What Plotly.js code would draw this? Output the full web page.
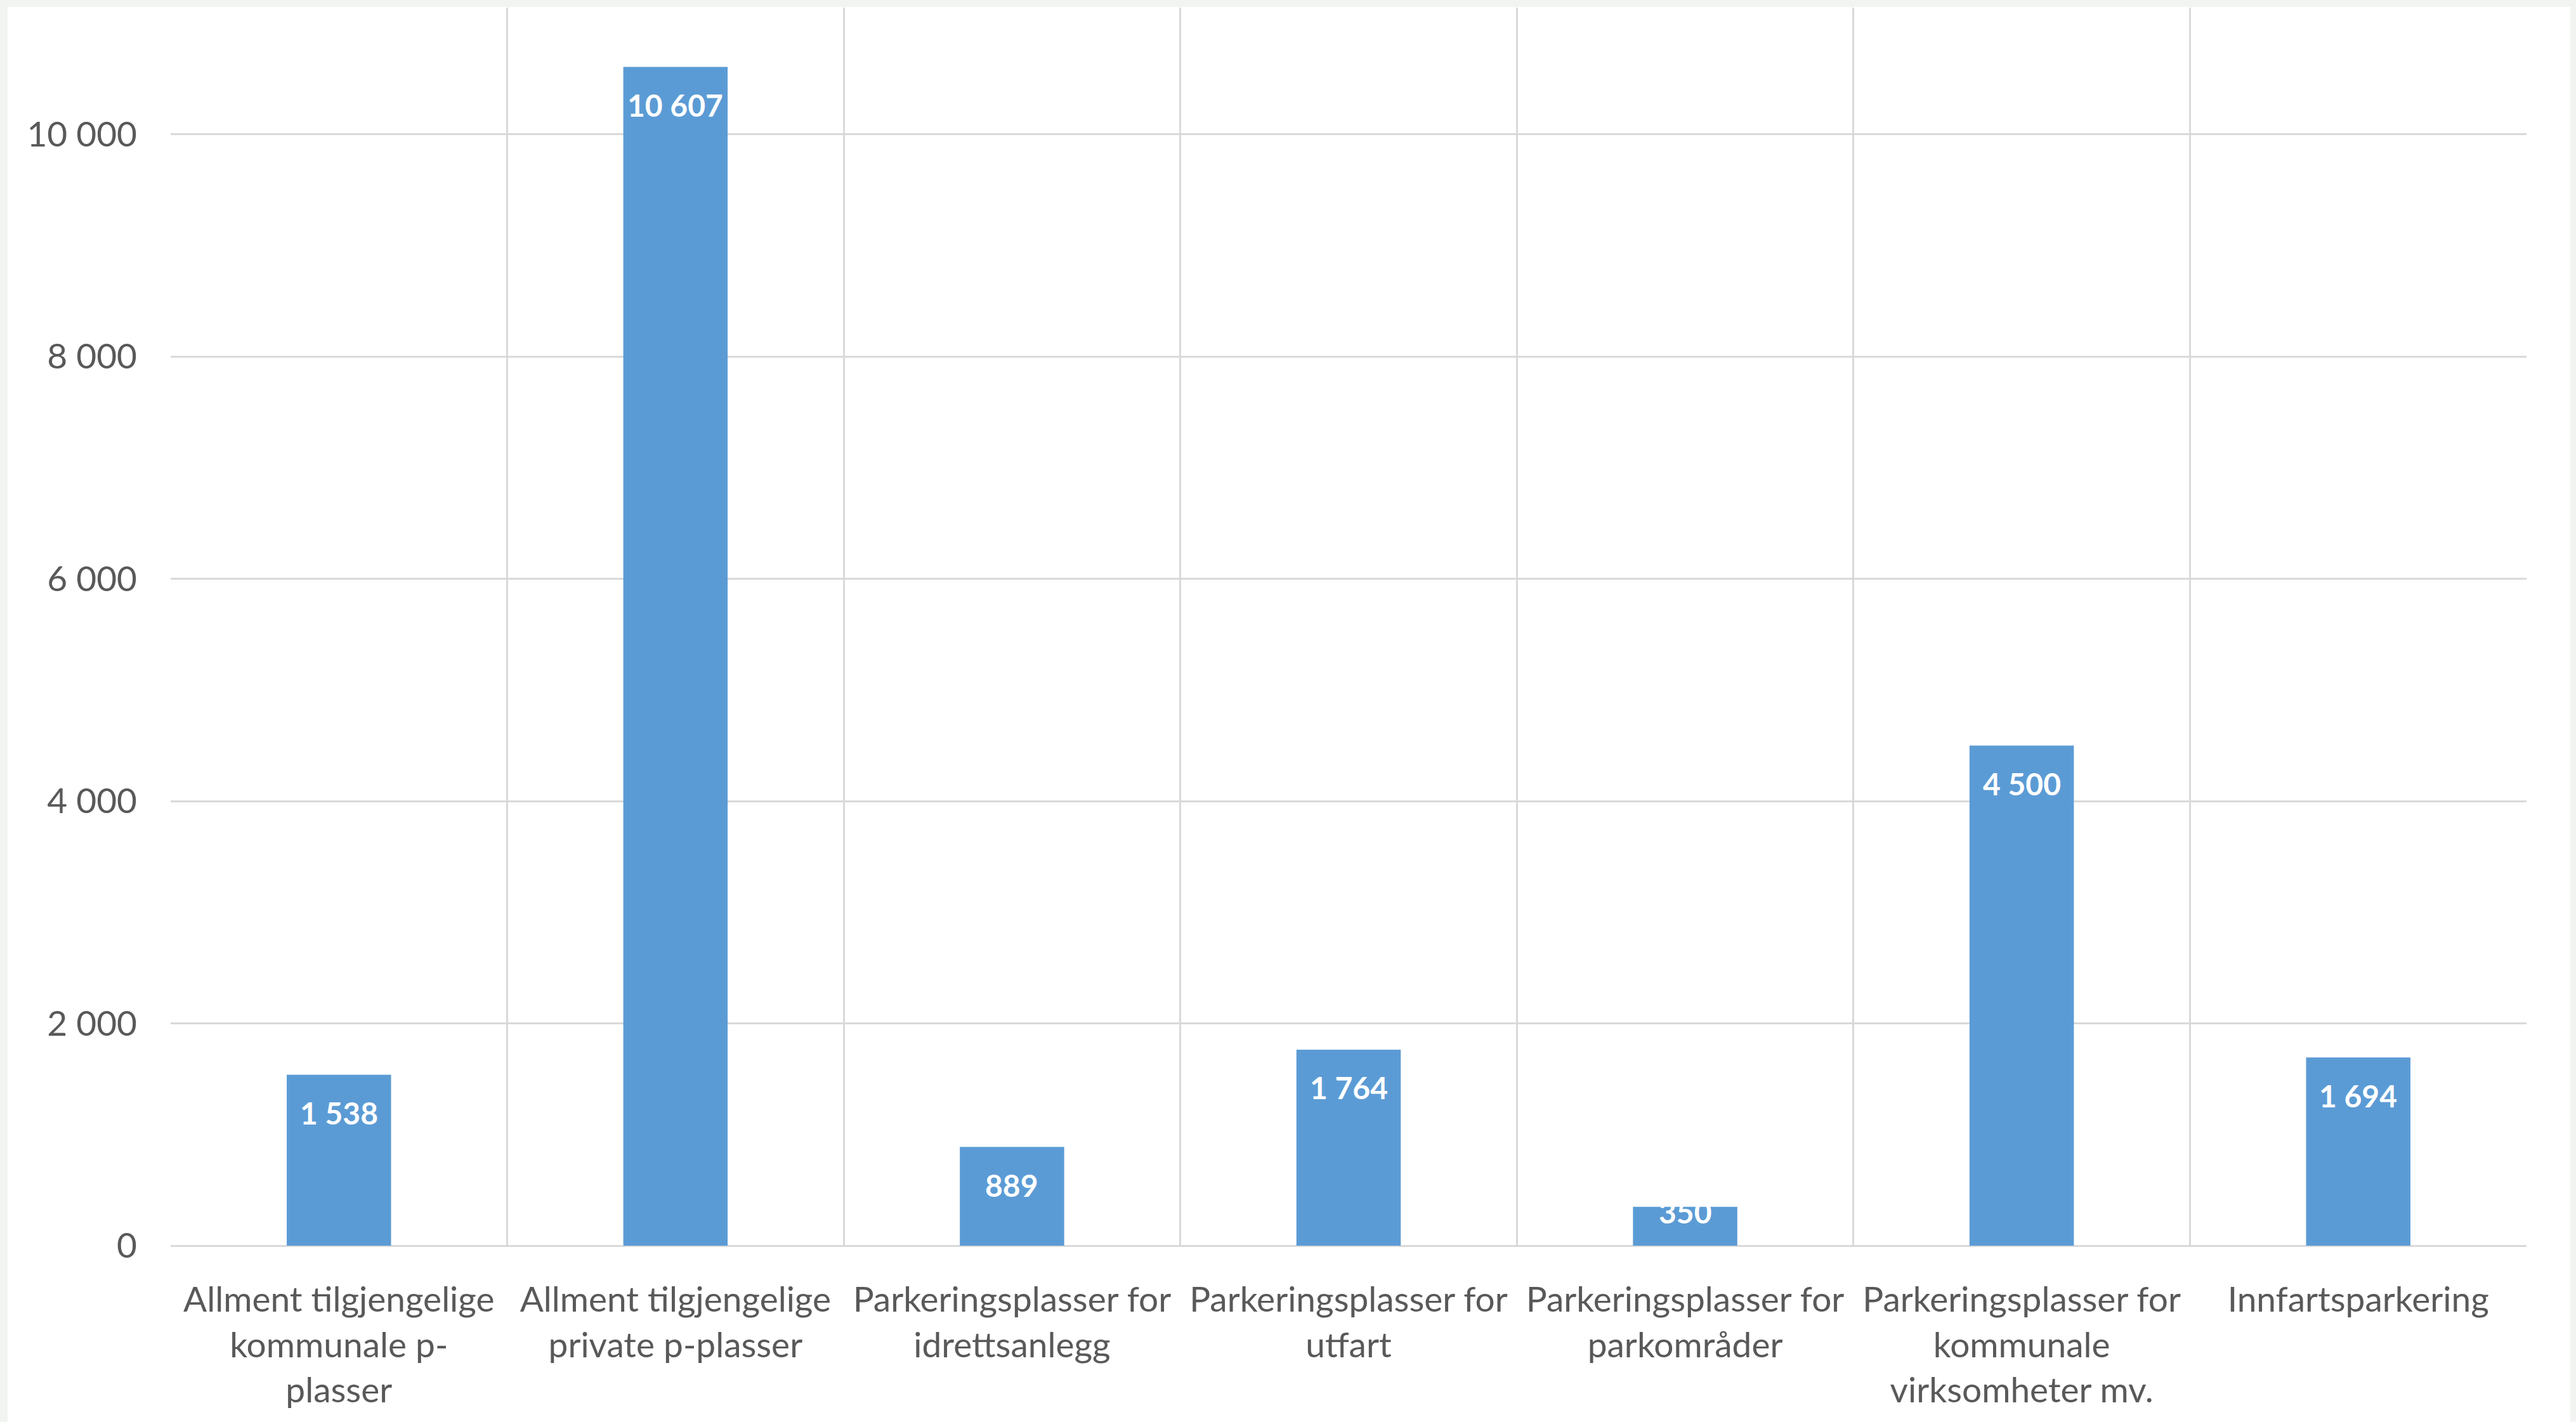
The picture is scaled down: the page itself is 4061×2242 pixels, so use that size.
<!DOCTYPE html>
<html>
<head>
<meta charset="utf-8">
<script src="https://cdn.plot.ly/plotly-3.0.1.min.js"></script>
<style>
  html, body { margin: 0; padding: 0; background: #f2f4f2; width: 4061px; height: 2242px; overflow: hidden; }
  #chart { position: absolute; left: 12px; top: 11px; width: 4040px; height: 2231px; background: #ffffff; }
</style>
</head>
<body>
<div id="chart"></div>
<script>
// ---- data ----
const categories = [
  "Allment tilgjengelige kommunale p-plasser",
  "Allment tilgjengelige private p-plasser",
  "Parkeringsplasser for idrettsanlegg",
  "Parkeringsplasser for utfart",
  "Parkeringsplasser for parkområder",
  "Parkeringsplasser for kommunale virksomheter mv.",
  "Innfartsparkering"
];
const tickLabels = [
  "Allment tilgjengelige<br>kommunale p-<br>plasser",
  "Allment tilgjengelige<br>private p-plasser",
  "Parkeringsplasser for<br>idrettsanlegg",
  "Parkeringsplasser for<br>utfart",
  "Parkeringsplasser for<br>parkområder",
  "Parkeringsplasser for<br>kommunale<br>virksomheter mv.",
  "Innfartsparkering"
];
const values = [1538, 10607, 889, 1764, 350, 4500, 1694];
const yTickVals = [0, 2000, 4000, 6000, 8000, 10000];

// ---- chart ----
const FONT = "Lato, 'Open Sans', sans-serif";
const yMax = 11140;
const plotH = 2231 - 1 - 278;

function fmt(v) {
  return String(v).replace(/\B(?=(\d{3})+(?!\d))/g, " ");
}

const annotations = categories.map((c, i) => {
  const barPx = values[i] / yMax * plotH;
  const shift = barPx > 140 ? -60 : -8;
  return {
    x: c, y: values[i], xref: "x", yref: "y",
    text: "<b>" + fmt(values[i]) + "</b>",
    showarrow: false, yanchor: "middle", xanchor: "center",
    yshift: shift,
    font: { family: FONT, size: 48, color: "#ffffff" }
  };
});

const trace = {
  type: "bar",
  x: categories,
  y: values,
  marker: { color: "#5b9bd5", line: { width: 0 } },
  hoverinfo: "x+y"
};

const layout = {
  width: 4040, height: 2231,
  margin: { l: 257, r: 69, t: 1, b: 278, pad: 0 },
  paper_bgcolor: "#ffffff",
  plot_bgcolor: "#ffffff",
  separators: ", ",
  bargap: 0.69,
  showlegend: false,
  font: { family: FONT, size: 55, color: "#595959" },
  xaxis: {
    type: "category",
    tickvals: categories,
    ticktext: tickLabels,
    tickangle: 0,
    tickson: "boundaries",
    ticks: "",
    showgrid: true,
    gridcolor: "#d9d9d9",
    gridwidth: 3,
    showline: false,
    ticklabelstandoff: 48,
    tickfont: { family: FONT, size: 55, color: "#595959" },
    range: [-0.5, 6.5],
    fixedrange: true
  },
  yaxis: {
    range: [0, yMax],
    tickvals: yTickVals,
    tickformat: ",d",
    ticks: "",
    showgrid: true,
    gridcolor: "#d9d9d9",
    gridwidth: 3,
    zeroline: true,
    zerolinecolor: "#d9d9d9",
    zerolinewidth: 3,
    showline: false,
    ticklabelstandoff: 52,
    tickfont: { family: FONT, size: 55, color: "#595959" },
    fixedrange: true
  },
  annotations: annotations
};

Plotly.newPlot("chart", [trace], layout, { displayModeBar: false, staticPlot: true });
</script>
</body>
</html>
